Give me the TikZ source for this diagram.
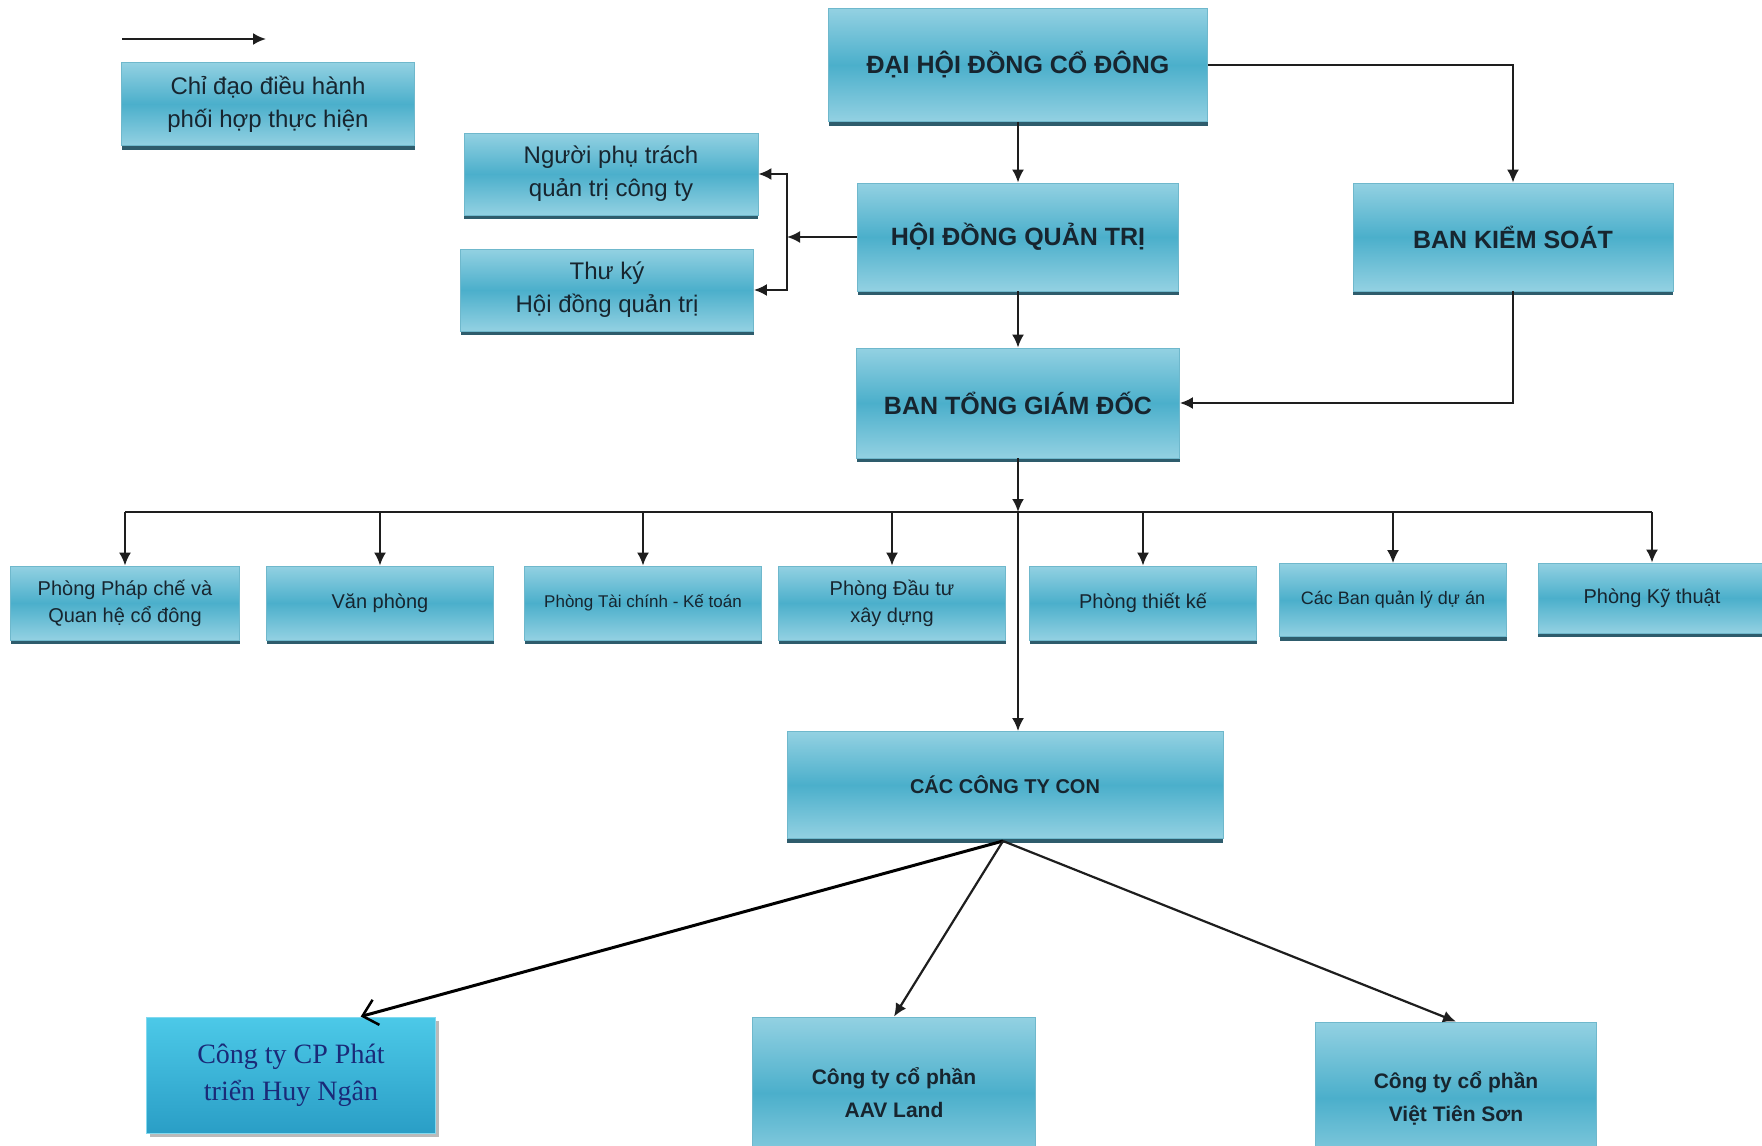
\documentclass[tikz,border=0pt]{standalone}
\usepackage{fontspec}
\setmainfont{Liberation Sans}
\newfontfamily\vnserif{Liberation Serif}
\usepackage{xcolor}
\usepackage{tikz}
\usetikzlibrary{arrows.meta}
\usetikzlibrary{shadows}

\definecolor{boxtop}{HTML}{93D1E2}
\definecolor{boxmid}{HTML}{4BAFCB}
\definecolor{boxedge}{HTML}{6FB8CC}
\definecolor{boxshade}{HTML}{2E5C6C}
\definecolor{navytext}{HTML}{17252F}
\definecolor{cyantop}{HTML}{4CC9E8}
\definecolor{cyanbot}{HTML}{2A9EC6}
\definecolor{bluetext}{HTML}{1A2A78}
\definecolor{linegray}{HTML}{1E1E1E}

\tikzset{
  orgbox/.style={draw=boxedge, line width=0.8pt, top color=boxtop,
    bottom color=boxtop, middle color=boxmid, text=navytext, align=center,
    inner sep=0pt, drop shadow={shadow xshift=0pt, shadow yshift=-4pt,
    fill=boxshade, opacity=1}},
  titlebox/.style={orgbox, font=\fontsize{25}{30}\selectfont\bfseries},
  notebox/.style={orgbox, font=\fontsize{24}{33}\selectfont},
  deptbox/.style={orgbox, font=\fontsize{20}{27}\selectfont,
    minimum width=227pt, minimum height=74pt},
  subbox/.style={orgbox, font=\fontsize{21}{33}\selectfont\bfseries},
  brightbox/.style={draw=cyantop!70!white, line width=1pt, top color=cyantop,
    bottom color=cyanbot, text=bluetext, align=center, inner sep=0pt,
    font=\vnserif\fontsize{28}{37}\selectfont,
    drop shadow={shadow xshift=3pt, shadow yshift=-4pt, fill=black!45, opacity=.6}},
  link/.style={draw=linegray, line width=2.2pt},
  arr/.style={link, -{Latex[length=13pt,width=12pt]}},
  openarr/.style={draw=black, line width=3pt, -{Straight Barb[length=14pt,width=26pt,line width=2.5pt]}}
}

\begin{document}
\begin{tikzpicture}[x=1pt,y=-1pt]
\useasboundingbox (0,0) rectangle (1762,1146);
\fill[white] (0,0) rectangle (1762,1146);
\clip (0,0) rectangle (1762,1146);

% legend
\coordinate (legfrom) at (122,39);
\coordinate (legto) at (266,39);
\draw[arr] (legfrom) -- (legto);
\node[notebox, minimum width=293pt, minimum height=83pt] (legend) at (268,104)
  {Chỉ đạo điều hành\\phối hợp thực hiện};

% top levels
\node[titlebox, minimum width=379pt, minimum height=113pt] (dhdcd) at (1018,65)
  {ĐẠI HỘI ĐỒNG CỔ ĐÔNG};
\node[titlebox, minimum width=321pt, minimum height=108pt] (hdqt) at (1018,237)
  {HỘI ĐỒNG QUẢN TRỊ};
\node[titlebox, minimum width=320pt, minimum height=108pt] (bks) at (1513,237)
  {BAN KIỂM SOÁT};
\node[titlebox, minimum width=323pt, minimum height=110pt] (btgd) at (1018,403)
  {BAN TỔNG GIÁM ĐỐC};
\node[notebox, minimum width=294pt, minimum height=82pt] (nguoi) at (611,174)
  {Người phụ trách\\quản trị công ty};
\node[notebox, minimum width=293pt, minimum height=82pt] (thuky) at (607,290)
  {Thư ký\\Hội đồng quản trị};

% departments
\node[deptbox, minimum width=229pt] (p1) at (125,603) {Phòng Pháp chế và\\Quan hệ cổ đông};
\node[deptbox] (p2) at (380,603) {Văn phòng};
\node[deptbox, minimum width=237pt, font=\fontsize{17}{27}\selectfont] (p3) at (643,603)
  {Phòng Tài chính - Kế toán};
\node[deptbox] (p4) at (892,603) {Phòng Đầu tư\\xây dựng};
\node[deptbox] (p5) at (1143,603) {Phòng thiết kế};
\node[deptbox, font=\fontsize{18}{27}\selectfont, minimum height=73pt] (p6) at (1393,600)
  {Các Ban quản lý dự án};
\node[deptbox, minimum width=228pt, minimum height=70pt] (p7) at (1652,598) {Phòng Kỹ thuật};

% subsidiaries
\node[orgbox, font=\fontsize{20}{30}\selectfont\bfseries, minimum width=436pt,
  minimum height=107pt] (ctc) at (1005,785) {CÁC CÔNG TY CON};
\node[brightbox, minimum width=289pt, minimum height=116pt] (huyngan) at (291,1075)
  {Công ty CP Phát\\triển Huy Ngân};
\node[subbox, minimum width=283pt, minimum height=152pt] (aav) at (894,1093)
  {Công ty cổ phần\\AAV Land};
\node[subbox, minimum width=281pt, minimum height=152pt] (vts) at (1456,1098)
  {Công ty cổ phần\\Việt Tiên Sơn};

% connectors
\draw[arr] (dhdcd.south) -- (dhdcd.south |- hdqt.north);
\draw[arr] (dhdcd.east) -| (bks.north);
\draw[arr] (hdqt.south) -- (hdqt.south |- btgd.north);
\draw[arr] (bks.south) |- (btgd.east);

\coordinate (brk) at (787,237);
\draw[arr] (hdqt.west) -- (brk);
\draw[arr] (brk) |- (nguoi.east);
\draw[arr] (brk) |- (thuky.east);

\coordinate (bus) at (1018,512);
\draw[arr] (btgd.south) -- (bus);
\draw[link] (p1 |- bus) -- (p7 |- bus);
\foreach \d in {p1,p2,p3,p4,p5,p6,p7}
  \draw[arr] (\d |- bus) -- (\d.north);
\draw[arr] (bus) -- (bus |- ctc.north);

\coordinate (fork) at (1003,841);
\draw[openarr] (fork) -- (huyngan.40);
\draw[arr] (fork) -- (aav.north);
\draw[arr] (fork) -- (vts.north);

\end{tikzpicture}
\end{document}
